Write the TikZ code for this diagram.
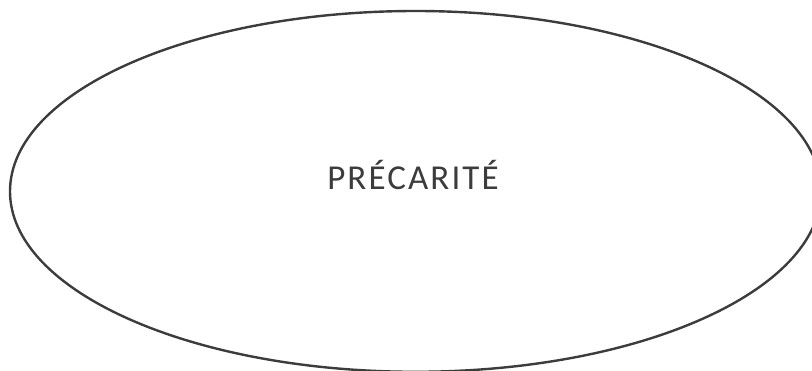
\documentclass[tikz,border=0pt]{standalone}
\usepackage{fontspec}
\setmainfont{Carlito}
\usetikzlibrary{shapes.geometric}
\definecolor{linegray}{RGB}{60,60,60}
\definecolor{textgray}{RGB}{60,60,60}
\tikzset{
  bigoval/.style={draw=linegray, line width=2.4pt, ellipse, inner sep=0pt, minimum width=811pt, minimum height=360.8pt},
  label/.style={text=textgray, font=\fontsize{35}{40}\selectfont, inner sep=0pt}
}
\begin{document}
\begin{tikzpicture}[x=1pt,y=1pt]
\clip (0,0) rectangle (812,370);
\useasboundingbox (0,0) rectangle (812,370);
\node[bigoval] (oval) at (415.5,178.6) {};
\node[label] (txt) at (413,195) {\addfontfeature{LetterSpace=6}PRÉCARITÉ};
\end{tikzpicture}
\end{document}
